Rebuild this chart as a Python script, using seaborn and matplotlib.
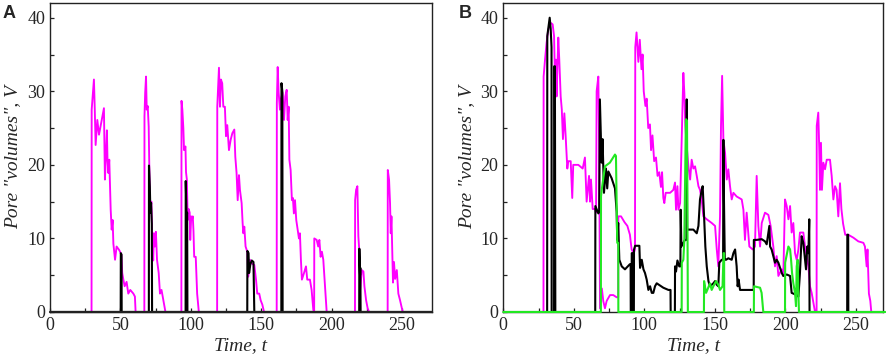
import numpy as np
import pandas as pd
import matplotlib
matplotlib.use("Agg")
import matplotlib.pyplot as plt
import seaborn as sns
from matplotlib.ticker import MultipleLocator

# ---------------- data (time t, pore volume V) ----------------
A_magenta = [
    (0, 0), (29.5, 0), (29.6, 27.5), (30.4, 29.5), (31.2, 31.6), (31.8, 27.5), (32.4, 22.7), (33.6, 26.1),
    (34.8, 24.1), (36.7, 26.1), (38.3, 27.7), (39.0, 18), (39.7, 21.1), (40.4, 24.7), (40.8, 21), (41.4, 18.9),
    (42.1, 20.7), (43.1, 13.9), (43.8, 11.2), (44.5, 12.5), (45.0, 9.3), (46.2, 7.1), (47.3, 8.9), (49.2, 8.4),
    (50.7, 7.8), (51.3, 5.3), (52.1, 4.4), (53.0, 3.5), (54.4, 4.1), (55.6, 2.5), (57.0, 3.0), (59.2, 2.5),
    (60.3, 2.1), (60.8, 0),
    (67.0, 0), (67.1, 26.6), (67.6, 29.8), (68.2, 32), (68.7, 27.5), (69.4, 28), (70.1, 25.2), (70.5, 20),
    (71.2, 14), (72.0, 15), (72.6, 10.3), (73.3, 7), (73.8, 10.7), (74.5, 8.9), (75.2, 10.9), (76.0, 7.1),
    (77.2, 5.3), (78.1, 2.5), (79.2, 3.0), (80.5, 1.6), (81.7, 0.3), (82.0, 0),
    (93.3, 0), (93.4, 28.7), (94.0, 27.5), (94.7, 25), (95.2, 22), (96.2, 22.5), (96.6, 19), (97.2, 18),
    (97.8, 12.5), (98.5, 14), (99.2, 13.5), (99.6, 9.8), (100.3, 13), (100.8, 12.6), (101.4, 13), (101.9, 11),
    (102.4, 7.5), (103.5, 7.5), (104.5, 2.5), (105.2, 1), (105.7, 0),
    (118.7, 0), (118.8, 27.9), (120.0, 33.2), (120.7, 27.9), (121.4, 31.6), (122.3, 31.1), (123.1, 27.9),
    (124.2, 27.9), (125.0, 23.9), (125.9, 25.4), (127.1, 22.0), (128.3, 23.4), (129.5, 24.3), (130.9, 24.8),
    (131.6, 21.1), (132.5, 18.9), (133.3, 15.2), (134.2, 18.6), (134.9, 16.6), (136.1, 14.8), (136.8, 12.1),
    (137.3, 10.7), (138.0, 11.6), (138.9, 8.9), (140.1, 8.2), (140.8, 4.8), (142.0, 7.1), (143.2, 6.6),
    (145.1, 6.4), (146.3, 4.4), (147.2, 2.5), (148.6, 2.5), (149.6, 1.6), (150.8, 1.0), (152.0, 0),
    (161.0, 0), (161.1, 28.4), (161.7, 33.3), (162.4, 29.8), (163.3, 27.5), (164.0, 29), (165.2, 29.8),
    (166.2, 26.1), (167.1, 29.3), (168.1, 30.2), (168.8, 26.1), (169.5, 27.9), (170.0, 20.7), (170.9, 19.3),
    (171.8, 15.2), (172.5, 15.5), (173.2, 13.4), (174.0, 15.2), (174.9, 12.5), (175.9, 11.2), (176.8, 10.0),
    (177.5, 10.7), (178.2, 7.1), (178.9, 4.4), (180.4, 5.3), (181.8, 6.2), (182.7, 4.4), (184.6, 4.4),
    (185.8, 3.0), (187.0, 0.3),
    (187.6, 0), (187.7, 10), (189.4, 9.8), (190.5, 8.9), (191.3, 9.8), (192.2, 7.5), (193.1, 8.2), (194.1, 7.1),
    (195.3, 3.5), (196.5, 0),
    (216.6, 0), (216.7, 15.2), (217.4, 16.6), (218.3, 17.1), (219.0, 10.3), (219.6, 8.5), (220.3, 3),
    (221.4, 5.7), (222.6, 5.5), (223.3, 3.5), (224.5, 1.6), (225.6, 0.5), (226.6, 0),
    (239.8, 0), (239.9, 19.3), (240.8, 18), (241.5, 14.8), (242.0, 10.7), (242.5, 13), (243.2, 7.1),
    (243.6, 4), (244.3, 6.8), (245.1, 4.5), (246.3, 5.7), (247.4, 2.5), (248.6, 1.6), (249.7, 0.7),
    (250.5, 0), (271, 0),
]

A_black = [
    (0, 0), (50.2, 0), (50.3, 8.0), (50.8, 7.8), (50.9, 0),
    (70.2, 0), (70.3, 19.9), (70.9, 17), (71.3, 13.5), (71.8, 14.8), (72.3, 12), (72.5, 0),
    (96.3, 0), (96.4, 17.8), (97.0, 13), (97.4, 13.5), (97.6, 0),
    (140.1, 0), (140.2, 8.3), (141.0, 8.0), (141.4, 5.3), (142.3, 6.5), (143.3, 7.0), (144.5, 6.8), (145.1, 0),
    (164.3, 0), (164.4, 31.1), (165.0, 30), (165.2, 0),
    (219.6, 0), (219.7, 8.6), (220.2, 5), (220.4, 6), (220.6, 0), (271, 0),
]

B_magenta = [
    (0, 0), (28.5, 0), (28.6, 32), (29.6, 34.3), (30.7, 36.6), (31.9, 38.4), (33.6, 39.3), (35.0, 39.1),
    (36.0, 37.5), (36.6, 32), (37.3, 34.3), (37.8, 29.3), (39.0, 37.3), (39.7, 34.3), (40.7, 29.3),
    (41.5, 27.5), (42.3, 23.5), (43.3, 27), (44.2, 24), (45.4, 19.5), (46.1, 20.5), (47.8, 20.5),
    (48.9, 15.5), (49.6, 20), (53.2, 20), (56.3, 19.5), (57.9, 21), (59.1, 15), (59.8, 16.5), (60.8, 18.5),
    (61.5, 15), (62.2, 18), (63.4, 14), (65.0, 14), (65.8, 13.5), (66.2, 30), (67.4, 32), (68.0, 22),
    (68.6, 0.5), (69.9, 3.2), (70.9, 1.5), (72.1, 0.5), (73.3, 1.5), (75.7, 2.3), (78.0, 2.3), (80.4, 2),
    (81.5, 2), (81.6, 13), (83.5, 13), (86.0, 12.2), (88.0, 11.7), (89.8, 10.5), (91.0, 8.5), (92.5, 8),
    (93.4, 8.5), (93.6, 36), (94.5, 38), (95.8, 34), (96.8, 37), (98.0, 33), (98.8, 35), (99.6, 30),
    (100.8, 28), (101.7, 29), (102.8, 25), (104.0, 25.5), (104.8, 22), (105.8, 24), (107.0, 20.5),
    (108.3, 21), (109.4, 18.5), (110.6, 19), (111.8, 17), (112.6, 19), (113.5, 15.5), (114.2, 14.8),
    (115.2, 16.2), (118.3, 16.2), (120.6, 16.6), (121.8, 17.6), (122.5, 13.9), (123.5, 17.1), (124.2, 13.9),
    (125.4, 14.8), (126.5, 23), (127.7, 32.5), (128.4, 29.8), (129.1, 25.3), (130.1, 22.5), (131.3, 19.8),
    (132.5, 18), (133.6, 20.7), (134.8, 19.5), (136.0, 19.8), (137.2, 18.5), (138.4, 17.1), (139.5, 16.6),
    (140.7, 15.3), (141.9, 13), (144.3, 12.6), (147.8, 12.1), (150.2, 11.7), (151.4, 8.5), (152.5, 6.2),
    (153.7, 13), (154.4, 25.3), (155.2, 32.1), (156.1, 23.4), (157.3, 21.6), (158.5, 18), (159.6, 19.4),
    (160.8, 17.1), (162.0, 15.3), (163.2, 16.2), (165.5, 15.7), (169.1, 15.3), (170.3, 13.9), (171.4, 9.8),
    (172.6, 13.5), (174.5, 8.9), (176.9, 8.5), (178.5, 8.9), (179.7, 18.5), (180.9, 11.7), (182.1, 8.9),
    (183.3, 12.1), (185.6, 13.5), (188.0, 13.2), (189.6, 11.7), (191.5, 8.9), (192.7, 6.2), (193.9, 7.6),
    (195.1, 4.9), (197.4, 5.8), (198.6, 4.9), (199.8, 15.3), (201.0, 14.4), (202.2, 12.6), (203.4, 14.4),
    (204.5, 10.8), (205.7, 12.1), (206.9, 8.0), (208.1, 7.1), (209.3, 8.5), (210.4, 10.8), (212.8, 10.8),
    (214.0, 8.9), (216.4, 6.2), (217.5, 3.5), (218.7, 2.6), (220.4, 0.8), (221.1, 0), (222.2, 0),
    (222.3, 25.3), (223.4, 27.1), (224.1, 22.1), (224.6, 16.6), (225.3, 23.0), (226.0, 16.6), (227.0, 20.3),
    (228.2, 19.4), (229.4, 20.7), (231.7, 20.7), (232.9, 18.5), (234.1, 15.3), (235.3, 17.1), (236.4, 16.6),
    (237.6, 13), (238.8, 17.5), (239.8, 14), (241.0, 12), (242.5, 10.5), (244.7, 10.5), (248.3, 10.1),
    (251.8, 9.6), (255.4, 9.4), (256.5, 8.9), (257.7, 6.2), (258.3, 8.5), (259.3, 2.5), (260.3, 1.5),
    (261.0, 0), (271, 0),
]

B_black = [
    (0, 0), (31.1, 0), (31.2, 37.5), (32.2, 39), (32.9, 40), (33.6, 38.5), (34.2, 36), (34.3, 0),
    (36.0, 0), (36.1, 33.4), (36.6, 33.4), (36.9, 0),
    (65.2, 0), (65.3, 14.4), (67.4, 13.4), (68.0, 13.6), (68.5, 28.9), (69.7, 20.3), (70.4, 23.5),
    (71.4, 16.2), (72.8, 19.5), (73.7, 16.8), (74.5, 19.1), (76.8, 18.2), (79.2, 16.8), (80.4, 13.6),
    (80.8, 9.8), (81.5, 12.1), (82.3, 7.1), (84.0, 6.2), (86.3, 5.8), (89.8, 6.5), (90.3, 6.5), (90.4, 0),
    (91.0, 0), (91.1, 8), (91.8, 8), (91.9, 0), (92.6, 0), (92.7, 8.5), (93.5, 9), (96.5, 9), (97.0, 6),
    (98.2, 7.1), (99.4, 5.8), (100.5, 5.3), (101.7, 4.4), (102.9, 3.0), (104.1, 3.5), (105.3, 2.6),
    (106.4, 2.6), (107.6, 3.5), (108.8, 3.9), (113.5, 3.3), (117.1, 3.0), (118.6, 3.0), (118.7, 0),
    (121.7, 0), (121.8, 6.2), (122.5, 5.5), (123.5, 7), (124.8, 6.2), (125.6, 6.2), (125.8, 13.9),
    (126.3, 8.9), (127.7, 9.4), (128.8, 9.8), (129.9, 9.8), (130.1, 28.9), (130.4, 11.2), (131.3, 11.2),
    (134.8, 11.2), (137.2, 10.7), (138.4, 11.7), (139.5, 15.3), (140.7, 16.6), (141.4, 17.1), (142.4, 13),
    (143.3, 8.9), (144.3, 6.2), (145.5, 4.2), (146.6, 3.5), (149.0, 3.9), (150.2, 4.2), (151.4, 3.7),
    (152.5, 3.5), (153.2, 6.7), (154.9, 7.1), (155.9, 7.1), (156.1, 23.4), (156.5, 15.3), (157.1, 7.1),
    (158.0, 7.1), (159.6, 7.3), (162.0, 7.1), (163.2, 8.0), (164.4, 8.5), (165.5, 6.2), (166.2, 3.5),
    (166.9, 4.4), (167.9, 3.0), (177.6, 3.0), (177.7, 9.8), (179.7, 9.8), (183.3, 9.9), (185.6, 9.6),
    (186.8, 9.2), (188.0, 10.8), (188.7, 11.7), (189.2, 8.9), (190.3, 8.5), (191.5, 7.6), (192.7, 6.7),
    (193.9, 7.1), (195.1, 6.7), (196.3, 6.0), (197.5, 5.3), (198.6, 4.9), (201.0, 5.1), (203.4, 4.9),
    (204.5, 2.6), (206.9, 2.4), (209.3, 2.1), (210.4, 5.3), (211.6, 10.3), (212.8, 9.4), (214.0, 7.1),
    (214.7, 5.8), (215.6, 8.9), (216.4, 8.0), (217.0, 12.6), (217.2, 0),
    (243.9, 0), (244.0, 10.5), (244.6, 10.5), (244.7, 0), (271, 0),
]

B_green = [
    (0, 0), (69.2, 0), (69.3, 15.7), (69.8, 16.6), (72.1, 19.8), (75.6, 20.3), (79.2, 21.4), (79.9, 21.2),
    (80.8, 9.4), (81.5, 9.4), (81.6, 0),
    (126.5, 0), (126.6, 6.7), (127.7, 7.1), (128.4, 9.8), (129.5, 26.2), (130.3, 26), (130.9, 0),
    (142.3, 0), (142.4, 4.2), (143.8, 2.6), (144.7, 3.0), (146.6, 3.9), (147.8, 3.0), (149.0, 3.5),
    (150.9, 4.2), (152.5, 3.7), (153.7, 3.0), (155.5, 3.5), (156.2, 8), (156.6, 8), (156.7, 0),
    (177.7, 0), (177.8, 3.5), (182.1, 3.3), (183.2, 2.6), (184.4, 0),
    (199.8, 0), (199.9, 6.7), (202.2, 8.9), (203.4, 8.5), (204.1, 7.1), (204.8, 5.3), (205.7, 3.9),
    (206.9, 2.6), (207.6, 0.8), (208.1, 6.2), (208.8, 7.1), (209.3, 2.6), (209.7, 0), (271, 0),
]

panel_labels = ["A", "B"]
x_label = "Time, t"
y_label = 'Pore "volumes", V'
x_ticks = [0, 50, 100, 150, 200, 250]
y_ticks = [0, 10, 20, 30, 40]

MAGENTA = "#FF00FF"
BLACK = "#000000"
GREEN = "#22E822"

# ---------------- style ----------------
sns.set_style("white")
plt.rcParams["font.family"] = ["Liberation Serif", "DejaVu Serif"]

fig = plt.figure(figsize=(8.86, 3.61), dpi=100)
axA = fig.add_axes([50 / 886, 1 - 312 / 361, 382 / 886, 309 / 361])
axB = fig.add_axes([503.3 / 886, 1 - 312 / 361, 379.7 / 886, 309 / 361])


def to_df(pairs):
    arr = np.array(pairs, dtype=float)
    return pd.DataFrame({"t": arr[:, 0], "v": arr[:, 1]})


def draw(ax, series):
    for pairs, color, lw, z, clip in series:
        sns.lineplot(data=to_df(pairs), x="t", y="v", sort=False, estimator=None,
                     color=color, linewidth=lw, ax=ax, zorder=z, clip_on=clip)


draw(axA, [(A_magenta, MAGENTA, 1.35, 2, True), (A_black, BLACK, 1.5, 2.1, True)])
draw(axB, [(B_magenta, MAGENTA, 1.35, 2, True), (B_black, BLACK, 1.5, 2.1, True),
           (B_green, GREEN, 1.5, 3, False)])
# dark baseline in panel A (the zero level sits under the axis line there)
axA.axhline(0, color="#222222", lw=1.6, zorder=2.4, clip_on=False)

for ax, xmax, lab, lx in [(axA, 271.3, panel_labels[0], 9), (axB, 269.3, panel_labels[1], 465)]:
    ax.set_xlim(0, xmax)
    ax.set_ylim(0, 42)
    ax.set_xticks(x_ticks)
    ax.set_yticks(y_ticks)
    ax.xaxis.set_minor_locator(MultipleLocator(25))
    ax.yaxis.set_minor_locator(MultipleLocator(5))
    ax.tick_params(axis="both", which="both", direction="in", length=3, width=0.9,
                   color="#222222", top=False, right=False, bottom=True, left=True)
    ax.tick_params(axis="both", which="major", labelsize=13, pad=3.5)
    for s in ax.spines.values():
        s.set_visible(True)
        s.set_color("#222222")
        s.set_linewidth(1.0)
        s.set_zorder(2.5)
    ax.set_xlabel(x_label, fontsize=14, style="italic", labelpad=2)
    ax.set_ylabel(y_label, fontsize=14, style="italic", labelpad=4)
    fig.text(lx / 886, 1 - 13 / 361, lab, ha="center", va="center", fontsize=13,
             fontweight="bold", family=["Liberation Sans", "DejaVu Sans"])

fig.savefig("out.png", dpi=100)
